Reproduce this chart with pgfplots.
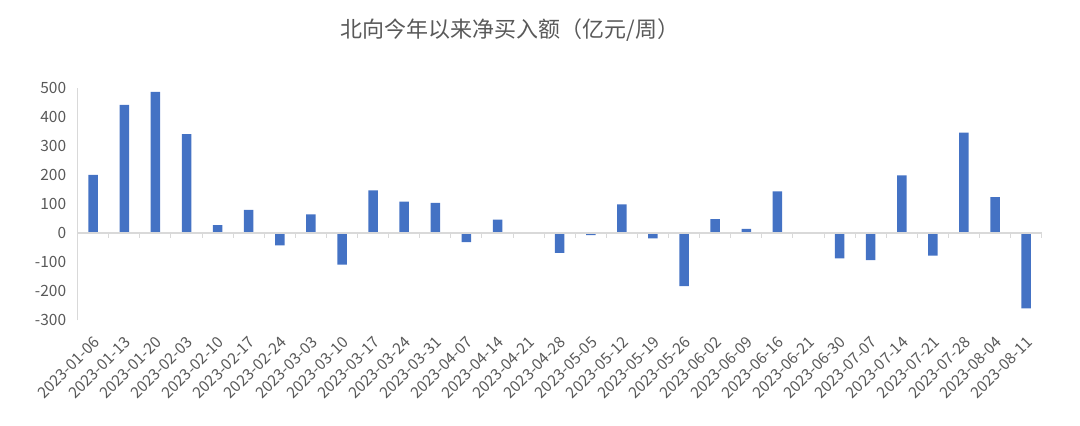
\documentclass[border=0pt]{standalone}
\usepackage{pgfplots}
\pgfplotsset{compat=1.18}
\usepackage{fontspec}
\setmainfont{Noto Sans CJK SC}

\definecolor{barblue}{RGB}{68,114,196}
\definecolor{textgray}{RGB}{89,89,89}
\definecolor{linegray}{RGB}{217,217,217}

\begin{document}
\begin{tikzpicture}
  \useasboundingbox (0,0) rectangle (1080pt,426pt);
  \node[text=textgray, font=\fontsize{22}{25}\selectfont] at (510pt,396pt) {北向今年以来净买入额（亿元/周）};

  \begin{axis}[
    at={(77.7pt,106pt)}, anchor=south west,
    scale only axis,
    width=964pt, height=232.3pt,
    xmin=-0.5, xmax=30.5,
    ymin=-300, ymax=500,
    ytick={-300,-200,...,500},
    xtick={0,...,30},
    xticklabels={2023-01-06,2023-01-13,2023-01-20,2023-02-03,2023-02-10,2023-02-17,2023-02-24,2023-03-03,2023-03-10,2023-03-17,2023-03-24,2023-03-31,2023-04-07,2023-04-14,2023-04-21,2023-04-28,2023-05-05,2023-05-12,2023-05-19,2023-05-26,2023-06-02,2023-06-09,2023-06-16,2023-06-21,2023-06-30,2023-07-07,2023-07-14,2023-07-21,2023-07-28,2023-08-04,2023-08-11},
    axis lines*=left,
    x axis line style={draw=none},
    y axis line style={draw=linegray, line width=0.8pt, -},
    major tick length=0pt,
    tick style={draw=none},
    /pgf/number format/assume math mode=true,
    tick label style={text=textgray, font=\fontsize{15.5}{17}\selectfont},
    yticklabel style={xshift=-8pt},
    xticklabel style={rotate=45, anchor=east, yshift=-16pt, xshift=-7.6pt},
    ybar, bar width=9.5pt,
    clip=false,
  ]
    \addplot[fill=barblue, draw=none] coordinates {
      (0,200) (1,441) (2,486) (3,340) (4,27) (5,79) (6,-43) (7,64)
      (8,-109) (9,146) (10,108) (11,103) (12,-32) (13,46) (14,0) (15,-69)
      (16,-8) (17,98) (18,-19) (19,-183) (20,47) (21,14) (22,143) (23,0)
      (24,-88) (25,-94) (26,198) (27,-78) (28,345) (29,123) (30,-260)
    };
    \draw[linegray, line width=1.5pt] (axis cs:-0.5,0) -- (axis cs:30.5,0);
    \pgfplotsinvokeforeach{0.5,1.5,...,30.5}{
      \draw[linegray, line width=1pt] (axis cs:#1,0) -- ++(0pt,-5pt);
    }
  \end{axis}
\end{tikzpicture}
\end{document}
